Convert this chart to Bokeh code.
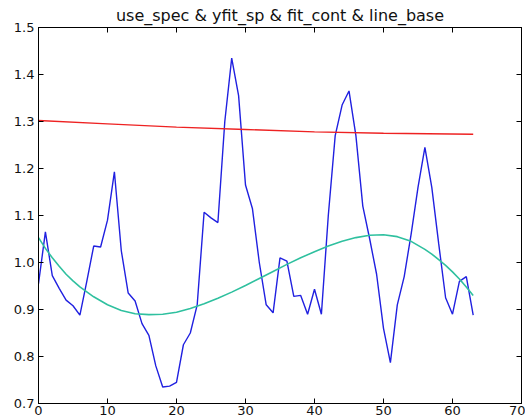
from bokeh.plotting import figure
from bokeh.models import Range1d, LinearAxis, FixedTicker, NumeralTickFormatter
from bokeh.embed import file_html
from bokeh.resources import INLINE

title_text = "use_spec & yfit_sp & fit_cont & line_base"

# use_spec (blue), sampled at 0..63
spec_x = list(range(64))
spec_y = [0.955, 1.065, 0.972, 0.945, 0.920, 0.908, 0.888, 0.960, 1.035, 1.033, 1.090, 1.193,
          1.025, 0.935, 0.918, 0.870, 0.845, 0.780, 0.735, 0.737, 0.745, 0.825, 0.850, 0.910,
          1.107, 1.095, 1.085, 1.300, 1.435, 1.355, 1.165, 1.115, 1.000, 0.910, 0.893, 1.010,
          1.003, 0.928, 0.930, 0.890, 0.943, 0.890, 1.100, 1.270, 1.335, 1.365, 1.270, 1.120,
          1.050, 0.975, 0.860, 0.787, 0.910, 0.970, 1.060, 1.160, 1.245, 1.160, 1.040, 0.925,
          0.890, 0.960, 0.970, 0.888]

# fit_cont (teal)
cont_x = [0, 1, 2, 3, 4, 5, 6, 8, 10, 12, 14, 16, 18, 20, 22, 24, 26, 28, 30, 32, 34, 36, 38, 40,
          42, 44, 46, 48, 50, 52, 54, 56, 57, 58, 59, 60, 61, 62, 63]
cont_y = [1.053, 1.030, 1.010, 0.992, 0.975, 0.961, 0.948, 0.927, 0.910, 0.898, 0.891, 0.889,
          0.890, 0.894, 0.902, 0.912, 0.924, 0.937, 0.951, 0.966, 0.981, 0.996, 1.010, 1.023,
          1.035, 1.045, 1.053, 1.058, 1.059, 1.055, 1.045, 1.028, 1.018, 1.006, 0.994, 0.980,
          0.965, 0.948, 0.930]

# line_base (red)
base_x = [0, 10, 20, 30, 40, 50, 63]
base_y = [1.302, 1.295, 1.288, 1.283, 1.278, 1.275, 1.273]

x_ticks = [0, 10, 20, 30, 40, 50, 60, 70]
y_ticks = [0.7, 0.8, 0.9, 1.0, 1.1, 1.2, 1.3, 1.4, 1.5]

FONT = "DejaVu Sans"

p = figure(width=525, height=419, output_backend="svg", toolbar_location=None,
           x_range=Range1d(0, 70), y_range=Range1d(0.7, 1.5),
           min_border_left=38, min_border_right=4, min_border_top=27, min_border_bottom=16)

p.title.text = title_text
p.title.align = "center"
p.title.text_font = FONT
p.title.text_font_size = "16px"
p.title.text_font_style = "normal"
p.title.text_color = "#111111"
p.title.standoff = 5

p.grid.visible = False
p.outline_line_color = "black"
p.outline_line_width = 1
p.background_fill_color = "white"
p.border_fill_color = "white"

def style(ax):
    ax.axis_line_color = "black"
    ax.major_tick_in = 5
    ax.major_tick_out = 0
    ax.major_tick_line_color = "black"
    ax.minor_tick_line_color = None
    ax.major_label_text_font = FONT
    ax.major_label_text_color = "#111111"
    ax.major_label_text_font_size = "13px"
    ax.major_label_standoff = 2

p.xaxis.ticker = FixedTicker(ticks=x_ticks)
p.yaxis.ticker = FixedTicker(ticks=y_ticks)
p.xaxis.formatter = NumeralTickFormatter(format="0")
p.yaxis.formatter = NumeralTickFormatter(format="0.0")
style(p.xaxis[0])
style(p.yaxis[0])
p.yaxis[0].major_label_standoff = 4

top = LinearAxis(ticker=FixedTicker(ticks=x_ticks),
                 major_label_overrides={t: "" for t in x_ticks})
right = LinearAxis(ticker=FixedTicker(ticks=y_ticks),
                   major_label_overrides={t: "" for t in y_ticks})
style(top)
style(right)
top.major_label_standoff = 0
right.major_label_standoff = 0
p.add_layout(top, "above")
p.add_layout(right, "right")

p.line(spec_x, spec_y, line_color="#2020e0", line_width=1.4)
p.line(base_x, base_y, line_color="#ee2222", line_width=1.4)
p.line(cont_x, cont_y, line_color="#2fc09f", line_width=1.6)

open("out.html", "w").write(file_html(p, INLINE))
